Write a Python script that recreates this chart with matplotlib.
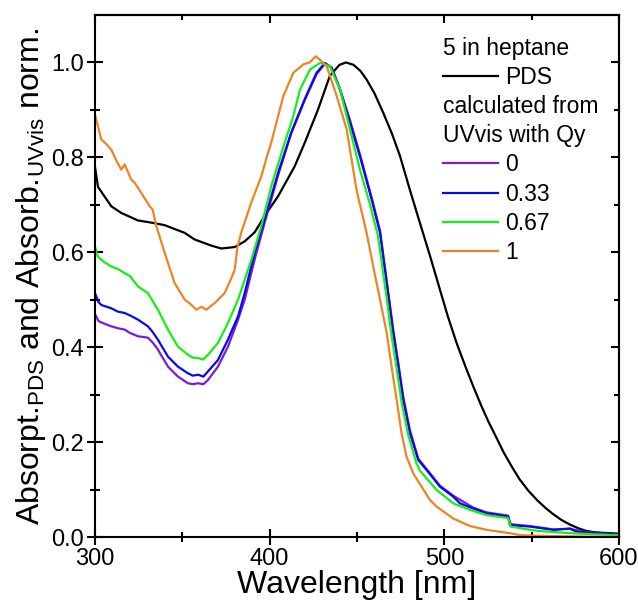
import matplotlib
matplotlib.use("Agg")
import matplotlib.pyplot as plt

plt.rcParams['font.family'] = ['Liberation Sans', 'DejaVu Sans']
plt.rcParams['mathtext.fontset'] = 'custom'
plt.rcParams['mathtext.rm'] = 'Liberation Sans'
plt.rcParams['mathtext.it'] = 'Liberation Sans:italic'

# ---- data ----
pds_wl = [300, 301.7, 305, 309.3, 315, 324.6, 333, 340, 345.6, 351.3, 357, 366.6, 372.3, 380, 385.7,
          391.4, 397, 404.8, 414.3, 420, 427.6, 434.5, 440, 443.7, 448, 452, 455.5, 460, 465, 470,
          474.6, 480, 486, 492, 497.5, 502, 507, 512, 516.6, 521, 525, 530, 534, 539, 543, 548,
          553, 558, 562, 567, 572, 577, 581, 586, 590, 595, 600]
pds_val = [0.78, 0.738, 0.72, 0.697, 0.683, 0.667, 0.662, 0.657, 0.649, 0.641, 0.627, 0.614, 0.608,
           0.611, 0.623, 0.642, 0.676, 0.718, 0.781, 0.83, 0.90, 0.972, 0.995, 1.0, 0.995, 0.982,
           0.964, 0.935, 0.894, 0.85, 0.803, 0.735, 0.662, 0.59, 0.521, 0.465, 0.409, 0.36, 0.317,
           0.278, 0.245, 0.208, 0.178, 0.146, 0.122, 0.098, 0.078, 0.061, 0.049, 0.036, 0.026,
           0.018, 0.013, 0.010, 0.009, 0.008, 0.007]

q0_wl = [300, 302, 305, 309.3, 313, 317, 320, 324.6, 330.3, 333, 336, 341.8, 347.5, 353.2, 356,
         359, 362, 364.7, 370.4, 376.1, 381.9, 385.7, 391.4, 397.1, 404.8, 412.3, 420, 426.8,
         431.6, 435.4, 440.2, 446, 451.7, 458.4, 463.2, 467, 470.8, 473.7, 476.5, 480.3, 485.1,
         489.9, 497.5, 505.1, 516.5, 524.1, 536.5, 538, 549, 562.4, 572, 581.5, 596.6, 600]
q0_val = [0.47, 0.455, 0.45, 0.444, 0.44, 0.437, 0.43, 0.423, 0.42, 0.41, 0.395, 0.359, 0.338,
          0.324, 0.322, 0.324, 0.322, 0.331, 0.359, 0.401, 0.458, 0.5, 0.585, 0.662, 0.762, 0.85,
          0.92, 0.975, 0.997, 0.99, 0.945, 0.878, 0.806, 0.715, 0.645, 0.54, 0.435, 0.365, 0.295,
          0.225, 0.165, 0.143, 0.108, 0.087, 0.062, 0.052, 0.045, 0.027, 0.023, 0.016, 0.017,
          0.01, 0.006, 0.006]

q33_wl = [300, 302, 303.6, 309.3, 313, 317, 320, 324.6, 330.3, 333, 336, 341.8, 347.5, 353.2, 356,
          359, 362, 364.7, 370.4, 376.1, 381.9, 385.7, 391.4, 397.1, 404.8, 412.3, 420, 426.8,
          431.6, 435.4, 440.2, 446, 451.7, 458.4, 463.2, 467, 470.8, 473.7, 476.5, 480.3, 485.1,
          489.9, 497.5, 505.1, 508.9, 516.5, 524.1, 536.5, 537.6, 549, 562.4, 572, 575, 581.5,
          596.6, 600]
q33_val = [0.514, 0.495, 0.489, 0.482, 0.475, 0.472, 0.467, 0.458, 0.444, 0.432, 0.416, 0.38,
           0.359, 0.345, 0.34, 0.342, 0.338, 0.349, 0.373, 0.416, 0.465, 0.514, 0.599, 0.669,
           0.767, 0.852, 0.922, 0.978, 0.999, 0.989, 0.943, 0.873, 0.802, 0.711, 0.641, 0.535,
           0.43, 0.359, 0.289, 0.219, 0.162, 0.141, 0.106, 0.085, 0.071, 0.06, 0.05, 0.043, 0.025,
           0.022, 0.015, 0.018, 0.012, 0.009, 0.006, 0.005]

q67_wl = [300, 301.6, 305, 309.3, 313, 317, 320, 324.6, 330.3, 336, 341.8, 347.5, 353.2, 356, 359,
          362, 364.7, 370.4, 376.1, 381.9, 385.7, 389.5, 395.2, 400.9, 408.6, 413, 417.4, 423.1,
          428.8, 434.5, 440.3, 446, 451.7, 457.5, 462, 466, 469.8, 472.7, 475.5, 479.3, 484.1, 486,
          495.6, 505.1, 514.7, 524.3, 536.5, 538, 552.9, 572, 596.6, 600]
q67_val = [0.612, 0.591, 0.58, 0.57, 0.565, 0.556, 0.55, 0.528, 0.514, 0.479, 0.437, 0.401, 0.384,
           0.378, 0.377, 0.374, 0.384, 0.409, 0.451, 0.5, 0.542, 0.584, 0.655, 0.739, 0.831, 0.88,
           0.943, 0.985, 0.999, 0.992, 0.943, 0.859, 0.774, 0.70, 0.635, 0.53, 0.425, 0.355,
           0.285, 0.215, 0.155, 0.14, 0.099, 0.071, 0.057, 0.046, 0.04, 0.022, 0.013, 0.008, 0.004,
           0.004]

q1_wl = [300, 303.6, 307, 309.3, 312, 315, 317, 320.8, 323, 326.5, 331.3, 333, 335.1, 339.9, 345.6,
         351.4, 355, 358, 361, 363.7, 368.5, 374.2, 378, 380, 381.5, 383.7, 389.4, 395.2, 398.3,
         400.9, 407.8, 413.5, 419.3, 423, 426.3, 429, 432.7, 438.4, 444.1, 449.8, 455.5, 459.3,
         463.2, 467, 469.8, 472.7, 475.5, 478.4, 482.2, 487, 491.8, 495.6, 505.1, 514.7, 524.3,
         537.6, 543.3, 560, 580, 600]
q1_val = [0.89, 0.838, 0.826, 0.816, 0.795, 0.774, 0.785, 0.753, 0.745, 0.725, 0.697, 0.69, 0.655,
          0.599, 0.535, 0.50, 0.49, 0.479, 0.485, 0.479, 0.493, 0.514, 0.545, 0.563, 0.61, 0.641,
          0.704, 0.76, 0.8, 0.831, 0.929, 0.978, 0.996, 1.0, 1.013, 1.005, 0.992, 0.929, 0.859,
          0.73, 0.641, 0.57, 0.5, 0.43, 0.359, 0.289, 0.219, 0.169, 0.134, 0.106, 0.078, 0.064,
          0.039, 0.023, 0.015, 0.008, 0.004, 0.002, 0.001, 0.0]

qy_labels = ['0', '0.33', '0.67', '1']
qy_colors = ['#7A1BDC', '#0A0AE6', '#14F014', '#EE8426']

x_ticks = [300, 400, 500, 600]
y_ticks = [0.0, 0.2, 0.4, 0.6, 0.8, 1.0]

# ---- figure ----
fig = plt.figure(figsize=(6.38, 6.08), dpi=100)
ax = fig.add_axes([95/638, 71/608, 524/638, 522/608])

lw = 1.6
pds_line, = ax.plot(pds_wl, pds_val, color='black', lw=lw)
qlines = []
for wl, val, c in zip([q0_wl, q33_wl, q67_wl, q1_wl], [q0_val, q33_val, q67_val, q1_val], qy_colors):
    l, = ax.plot(wl, val, color=c, lw=lw)
    qlines.append(l)

ax.set_xlim(300, 600)
ax.set_ylim(0, 1.1)
ax.set_xticks(x_ticks)
ax.set_xticks([350, 450, 550], minor=True)
ax.set_yticks(y_ticks)
ax.set_yticklabels([f'{v:.1f}' for v in y_ticks])
ax.set_yticks([0.1, 0.3, 0.5, 0.7, 0.9], minor=True)

for s in ax.spines.values():
    s.set_linewidth(1.5)

ax.tick_params(which='major', direction='inout', length=12, width=1.5, labelsize=17, pad=2)
ax.tick_params(which='minor', direction='inout', length=7, width=1.5)

sx = ax.secondary_xaxis('top')
sx.set_xticks(x_ticks)
sx.set_xticks([350, 450, 550], minor=True)
sx.tick_params(which='major', direction='in', length=6, width=1.5, labeltop=False)
sx.tick_params(which='minor', direction='in', length=3.5, width=1.5)
sy = ax.secondary_yaxis('right')
sy.set_yticks(y_ticks)
sy.set_yticks([0.1, 0.3, 0.5, 0.7, 0.9], minor=True)
sy.tick_params(which='major', direction='in', length=6, width=1.5, labelright=False)
sy.tick_params(which='minor', direction='in', length=3.5, width=1.5)
for s in list(sx.spines.values()) + list(sy.spines.values()):
    s.set_linewidth(1.5)

ax.set_xlabel('Wavelength [nm]', fontsize=23, labelpad=0)
ax.set_ylabel(r'Absorpt.$_{\mathrm{PDS}}$ and Absorb.$_{\mathrm{UVvis}}$ norm.', fontsize=23, labelpad=2)

leg_fs = 16.5
common = dict(loc='upper left', frameon=False, fontsize=leg_fs, title_fontsize=leg_fs,
              handlelength=2.4, handletextpad=0.3, borderpad=0, borderaxespad=0,
              labelspacing=0.28, alignment='left')
leg1 = ax.legend([pds_line], ['PDS'], title='5 in heptane',
                 bbox_to_anchor=(0.664, 0.958), **common)
ax.add_artist(leg1)
leg2 = ax.legend(qlines, qy_labels, title='calculated from\nUVvis with Qy',
                 bbox_to_anchor=(0.664, 0.846), **common)
leg2.get_title().set_linespacing(1.3)

fig.savefig('out.png', dpi=100)
